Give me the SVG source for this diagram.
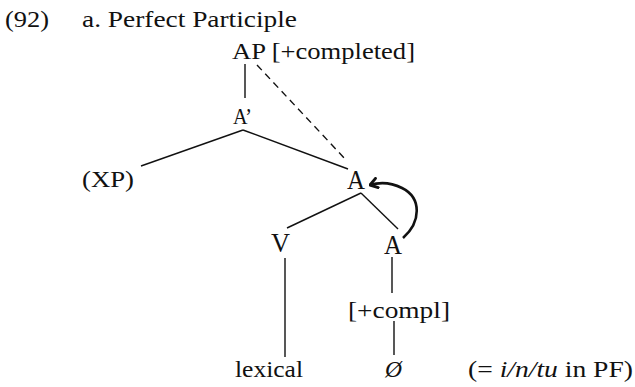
<svg xmlns="http://www.w3.org/2000/svg" width="635" height="387" viewBox="0 0 635 387">
<style>
text{font-family:"Liberation Serif","DejaVu Serif",serif;font-size:24px;fill:#111}
.big{font-size:27px}
.e{stroke:#111;stroke-width:1.4;fill:none}
.d{stroke-dasharray:7 5}
.arc{stroke:#111;stroke-width:2.6;fill:none}
</style>
<defs>
<marker id="ah" markerWidth="12" markerHeight="12" refX="9" refY="5" orient="auto" markerUnits="userSpaceOnUse" viewBox="0 0 10 10">
<path d="M3,1 L9,5 L3,9" fill="none" stroke="#111" stroke-width="2.4" stroke-linejoin="round" stroke-linecap="round"/>
</marker>
</defs>
<rect width="635" height="387" fill="#fff"/>
<text x="5" y="27" textLength="44" lengthAdjust="spacingAndGlyphs">(92)</text>
<text x="82" y="27" textLength="215" lengthAdjust="spacingAndGlyphs">a. Perfect Participle</text>
<g id="connectors">
<line class="e" x1="245" y1="64" x2="245" y2="98"/>
<line class="e d" x1="257" y1="65" x2="347" y2="161"/>
<line class="e" x1="243" y1="130" x2="141" y2="166"/>
<line class="e" x1="243" y1="130" x2="348" y2="169"/>
<line class="e" x1="361" y1="193" x2="287" y2="228"/>
<line class="e" x1="361" y1="193" x2="398" y2="229"/>
<line class="e" x1="285" y1="258" x2="285" y2="357"/>
<line class="e" x1="392" y1="257" x2="392" y2="293"/>
<line class="e" x1="394" y1="321" x2="394" y2="355"/>
<path class="arc" d="M403,238 C421,222 422,198 402,188 C392,183 380,182 370,185" marker-end="url(#ah)"/>
</g>
<g id="AP"><text x="232" y="59" textLength="183" lengthAdjust="spacingAndGlyphs">AP [+completed]</text></g>
<g id="Abar"><text x="233" y="124" font-size="22" textLength="19" lengthAdjust="spacingAndGlyphs">A’</text></g>
<g id="XP"><text x="82" y="187" textLength="52" lengthAdjust="spacingAndGlyphs">(XP)</text></g>
<g id="A1"><text class="big" x="347" y="189" textLength="18" lengthAdjust="spacingAndGlyphs">A</text></g>
<g id="V"><text class="big" x="271" y="252" textLength="19" lengthAdjust="spacingAndGlyphs">V</text></g>
<g id="A2"><text class="big" x="384" y="254" textLength="18" lengthAdjust="spacingAndGlyphs">A</text></g>
<g id="compl"><text x="348" y="318" textLength="102" lengthAdjust="spacingAndGlyphs">[+compl]</text></g>
<g id="lexical"><text x="235" y="377" textLength="68" lengthAdjust="spacingAndGlyphs">lexical</text></g>
<g id="null"><text x="385" y="377" font-style="italic" textLength="17" lengthAdjust="spacingAndGlyphs">Ø</text></g>
<g id="note"><text x="468" y="377" textLength="165" lengthAdjust="spacingAndGlyphs">(= <tspan font-style="italic">i/n/tu</tspan> in PF)</text></g>
</svg>
